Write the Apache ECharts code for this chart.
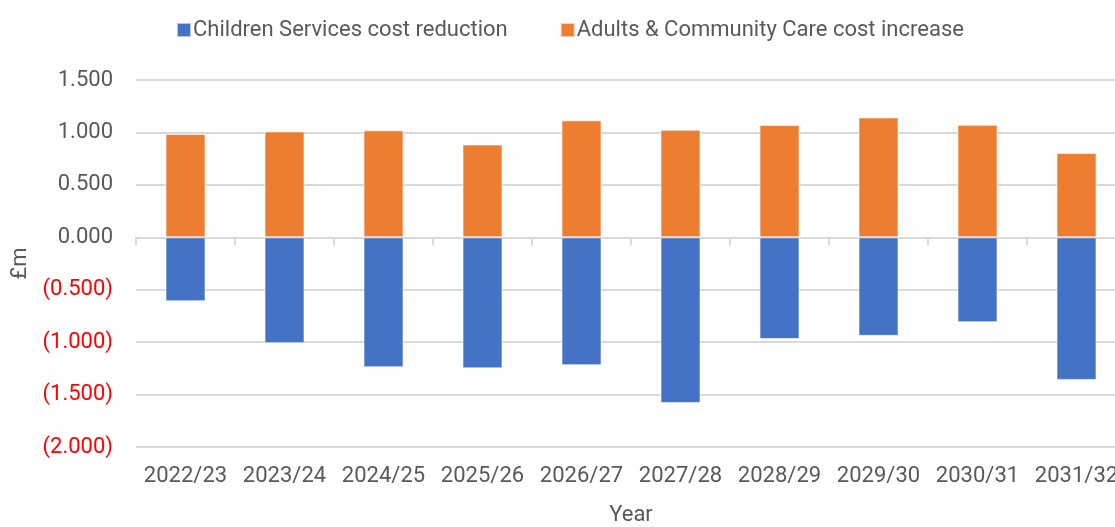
<!DOCTYPE html>
<html>
<head>
<meta charset="utf-8">
<script src="https://cdn.jsdelivr.net/npm/echarts@6/dist/echarts.min.js"></script>
<style>
  html, body { margin: 0; padding: 0; background: #fff; }
  #chart { width: 1115px; height: 527px; }
</style>
</head>
<body>
<div id="chart"></div>
<script>
const years = ['2022/23', '2023/24', '2024/25', '2025/26', '2026/27', '2027/28', '2028/29', '2029/30', '2030/31', '2031/32']
const childrenReduction = [-0.61, -1.01, -1.24, -1.25, -1.22, -1.58, -0.97, -0.94, -0.81, -1.36]
const adultsIncrease = [0.985, 1.01, 1.02, 0.885, 1.115, 1.025, 1.07, 1.143, 1.073, 0.805]

const chart = echarts.init(document.getElementById('chart'))
const textGrey = '#595959'
const lineGrey = '#d9d9d9'
const font = 'Roboto, "Noto Sans", sans-serif'

chart.setOption({
  animation: false,
  textStyle: { fontFamily: font },
  legend: {
    top: 14,
    left: 171,
    itemWidth: 14,
    itemHeight: 14,
    itemGap: 52,
    icon: 'rect',
    textStyle: { color: textGrey, fontSize: 22, fontFamily: font, padding: [0, 0, 0, -3] },
    data: ['Children Services cost reduction', 'Adults & Community Care cost increase'],
  },
  // the plot runs past the right edge of the picture, like the source
  grid: { left: 136, width: 990, top: 80, bottom: 80, containLabel: false, outerBoundsMode: 'none' },
  xAxis: [
    {
      type: 'category',
      data: years,
      position: 'bottom',
      axisLine: { show: false, onZero: false },
      axisTick: { show: false },
      axisLabel: { color: textGrey, fontSize: 22, margin: 18, interval: 0 },
      name: 'Year',
      nameLocation: 'middle',
      nameGap: 57,
      nameTextStyle: { color: textGrey, fontSize: 22 },
    },
    {
      type: 'category',
      data: years,
      position: 'bottom',
      axisLine: { show: true, onZero: true, lineStyle: { color: lineGrey, width: 2 } },
      axisTick: { show: true, length: 8, interval: 0, lineStyle: { color: lineGrey, width: 2 } },
      axisLabel: { show: false },
    },
  ],
  yAxis: {
    type: 'value',
    min: -2,
    max: 1.5,
    interval: 0.5,
    axisLine: { show: false },
    axisTick: { show: false },
    splitLine: { lineStyle: { color: lineGrey, width: 2 } },
    axisLabel: {
      fontSize: 22,
      margin: 23,
      color: (v) => (v < 0 ? '#ff0000' : textGrey),
      formatter: (v) => (v < 0 ? '(' + Math.abs(v).toFixed(3) + ')' : v.toFixed(3)),
    },
    name: '£m',
    nameLocation: 'middle',
    nameGap: 100,
    nameTextStyle: { color: textGrey, fontSize: 22 },
  },
  series: [
    {
      name: 'Children Services cost reduction',
      type: 'bar',
      stack: 'total',
      barWidth: 40,
      data: childrenReduction,
      itemStyle: { color: '#4472c4', borderColor: 'rgba(255,255,255,0.6)', borderWidth: 1 },
    },
    {
      name: 'Adults & Community Care cost increase',
      type: 'bar',
      stack: 'total',
      barWidth: 40,
      data: adultsIncrease,
      itemStyle: { color: '#ed7d31', borderColor: 'rgba(255,255,255,0.6)', borderWidth: 1 },
    },
  ],
})
</script>
</body>
</html>
